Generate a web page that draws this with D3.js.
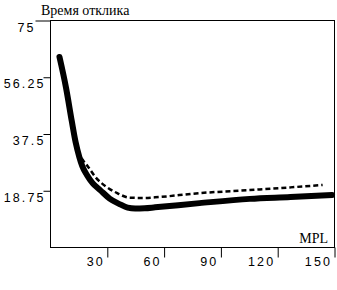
<!DOCTYPE html>
<html>
<head>
<meta charset="utf-8">
<script src="https://cdnjs.cloudflare.com/ajax/libs/d3/7.8.5/d3.min.js"></script>
<style>
  body { margin: 0; background: #fff; }
  svg { display: block; }
</style>
</head>
<body>
<div id="chart"></div>
<script>
// data
var solidMpl  = [5, 8.5, 11.5, 13.5, 15.5, 17, 19.5, 22.5, 26.5, 31.5, 37, 41, 45, 50, 55.5, 79, 105.5, 127, 149];
var solidResp = [62.8, 52.5, 41.6, 34.7, 29.7, 26.8, 23.8, 21.1, 18.8, 16.0, 14.1, 13.0, 12.7, 12.8, 13.1, 14.5, 15.9, 16.5, 17.2];

var dashMpl  = [5, 8.5, 11.5, 13.5, 15.5, 17.5, 20, 24, 30, 35.5, 42, 50, 55.5, 79, 105.5, 127, 144];
var dashResp = [62.8, 52.5, 41.6, 34.9, 30.6, 28.6, 26.6, 23.1, 19.8, 17.8, 16.3, 16.2, 16.4, 17.8, 18.8, 19.7, 20.5];

var xTicks = [30, 60, 90, 120, 150];
var yTicks = [18.75, 37.5, 56.25, 75];

var yTitle = "Время отклика";
var xTitle = "MPL";

//~~~~~~~~~~~~~~~~~~~~~~~~~~~~~~~~~~~~~~~~~~~~~~~~~~~~~~~~~~~~~~~~~~~~~~
function main(){

	var width = 337,
		height = 290;

	var left = 50, right = 334, top = 20, bottom = 247;

	var svg = d3.select("#chart").append("svg")
		.attr("width", width)
		.attr("height", height);

	var x = d3.scaleLinear().domain([0, 150]).range([left, right]);
	var y = d3.scaleLinear().domain([0, 75]).range([bottom, top]);

	// frame
	svg.append("rect")
		.attr("x", left + 0.5)
		.attr("y", top + 0.5)
		.attr("width", right - left)
		.attr("height", bottom - top)
		.attr("fill", "none")
		.attr("stroke", "#000")
		.attr("stroke-width", 1);

	// y axis
	var yAxis = svg.append("g")
		.attr("transform", "translate(" + (left + 0.5) + ",0.5)")
		.call(d3.axisLeft(y).tickValues(yTicks).tickSize(7).tickPadding(0).tickFormat(d => d));
	yAxis.select(".domain").remove();
	yAxis.selectAll("line").attr("stroke", "#000");
	yAxis.selectAll(".tick").filter(d => d == 75).select("line").attr("x2", -15);
	yAxis.selectAll("text")
		.attr("x", d => d == 75 ? -15 : -5)
		.attr("dy", "10.5")
		.attr("fill", "#000")
		.style("font-family", "'Liberation Sans', Arial, sans-serif")
		.style("font-size", "12.5px")
		.style("letter-spacing", "2.1px");

	// x axis
	var xAxis = svg.append("g")
		.attr("transform", "translate(0.5," + (bottom + 0.5) + ")")
		.call(d3.axisBottom(x).tickValues(xTicks).tickSize(10).tickPadding(0).tickFormat(d => d));
	xAxis.select(".domain").remove();
	xAxis.selectAll("line").attr("stroke", "#000");
	xAxis.selectAll("text")
		.attr("x", -3)
		.attr("y", 18.5)
		.attr("dy", 0)
		.attr("text-anchor", "end")
		.attr("fill", "#000")
		.style("font-family", "'Liberation Sans', Arial, sans-serif")
		.style("font-size", "12.5px")
		.style("letter-spacing", "2.1px");

	// titles
	svg.append("text")
		.attr("x", 41)
		.attr("y", 15)
		.style("font-family", "'Liberation Serif', 'Times New Roman', serif")
		.style("font-size", "14px")
		.text(yTitle);

	svg.append("text")
		.attr("x", 328)
		.attr("y", 243)
		.attr("text-anchor", "end")
		.style("font-family", "'Liberation Serif', 'Times New Roman', serif")
		.style("font-size", "14px")
		.text(xTitle);

	var line = d3.line()
		.x(d => x(d[0]))
		.y(d => y(d[1]))
		.curve(d3.curveMonotoneX);

	// dashed series
	svg.append("path")
		.datum(d3.zip(dashMpl, dashResp))
		.attr("d", line)
		.attr("fill", "none")
		.attr("stroke", "#000")
		.attr("stroke-width", 2.5)
		.attr("stroke-dasharray", "5,3");

	// thick solid series
	svg.append("path")
		.datum(d3.zip(solidMpl, solidResp))
		.attr("d", line)
		.attr("fill", "none")
		.attr("stroke", "#000")
		.attr("stroke-width", 6)
		.attr("stroke-linejoin", "round")
		.attr("stroke-linecap", "round");
}

main();
</script>
</body>
</html>
